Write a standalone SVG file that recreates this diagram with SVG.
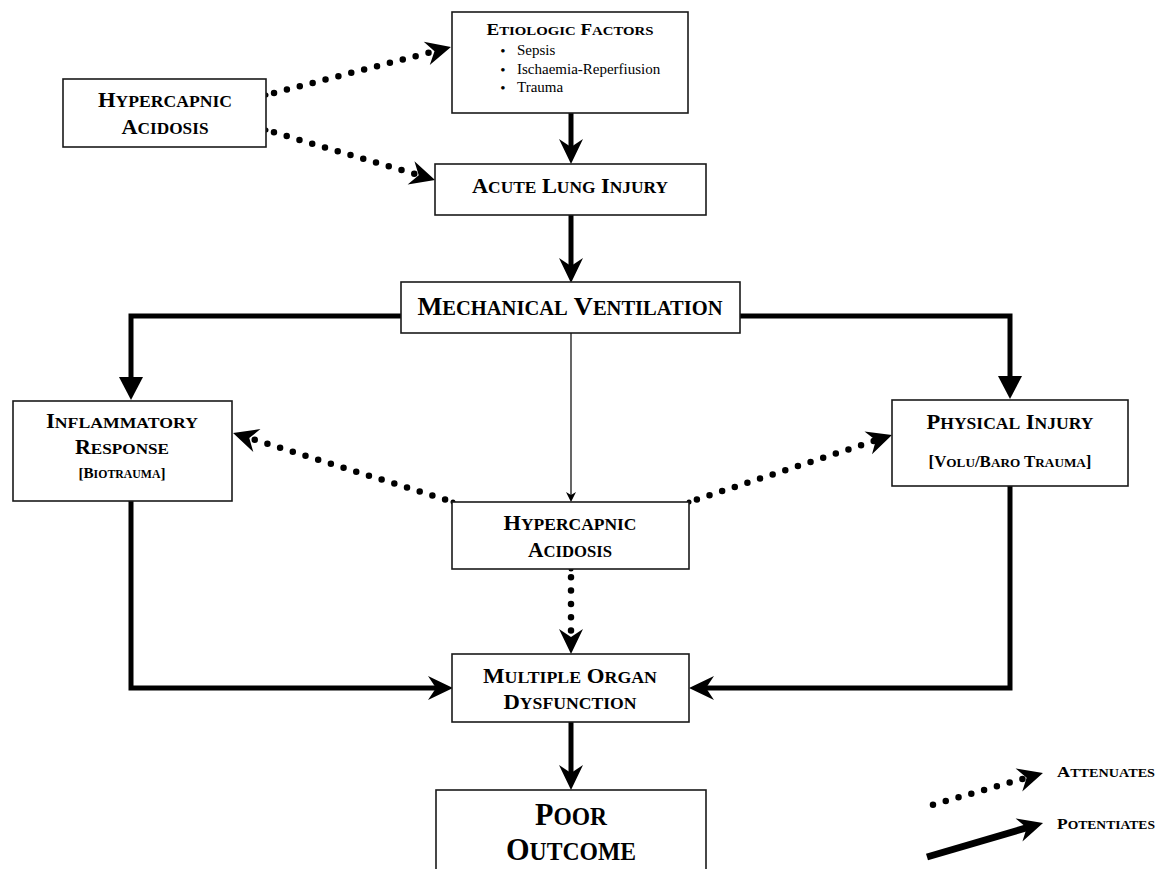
<svg xmlns="http://www.w3.org/2000/svg" width="1170" height="869" viewBox="0 0 1170 869">
<style>
.box{fill:#fff;stroke:#1a1a1a;stroke-width:1.6}
.t{font-family:"Liberation Serif","Times New Roman",serif;font-weight:bold;fill:#000;text-anchor:middle}
.s{font-size:0.78em}
.b{font-family:"Liberation Serif","Times New Roman",serif;fill:#000;font-size:15px}
.solid{fill:none;stroke:#000;stroke-width:5}
.dot{fill:none;stroke:#000;stroke-width:6.5;stroke-linecap:round;stroke-dasharray:0 13.3;stroke-dashoffset:5}
.thin{fill:none;stroke:#000;stroke-width:1.2}
</style>
<defs>
<marker id="ah" markerUnits="userSpaceOnUse" viewBox="-12 -13 27 26" refX="0" refY="0" markerWidth="27" markerHeight="26" orient="auto">
<path d="M14,0 L-11,-12 L-3,0 L-11,12 Z" fill="#000"/>
</marker>
<marker id="tri" markerUnits="userSpaceOnUse" viewBox="-10 -13 25 26" refX="0" refY="0" markerWidth="25" markerHeight="26" orient="auto">
<path d="M14,0 L-9,-12 L-9,12 Z" fill="#000"/>
</marker>
<marker id="sm" markerUnits="userSpaceOnUse" viewBox="-5 -6 12 12" refX="0" refY="0" markerWidth="12" markerHeight="12" orient="auto">
<path d="M6,0 L-4,-5 L-1,0 L-4,5 Z" fill="#000"/>
</marker>
</defs>

<g id="connectors">
<path class="solid" d="M571,113 V150" marker-end="url(#ah)"/>
<path class="solid" d="M571,215 V269" marker-end="url(#ah)"/>
<path class="solid" d="M401,316 H131 V386" marker-end="url(#tri)"/>
<path class="solid" d="M740,316 H1010 V385" marker-end="url(#tri)"/>
<path class="thin" d="M571,333 V496" marker-end="url(#sm)"/>
<path class="solid" d="M131,501 V688 H439" marker-end="url(#ah)"/>
<path class="solid" d="M1010,486 V688 H703" marker-end="url(#ah)"/>
<path class="solid" d="M571,722 V776" marker-end="url(#ah)"/>
<path class="dot" d="M266,95 L437.4,50.5" marker-end="url(#ah)"/>
<path class="dot" d="M266,130 L421.6,176" marker-end="url(#ah)"/>
<path class="dot" d="M453,502 L246.4,437.2" marker-end="url(#ah)"/>
<path class="dot" d="M689,502 L878.7,439.4" marker-end="url(#ah)"/>
<path class="dot" d="M571,569 L571,640" marker-end="url(#ah)"/>
<g fill="#000">
<circle cx="266" cy="95" r="2.5"/><circle cx="266" cy="130" r="2.5"/>
<circle cx="453" cy="502" r="2.5"/><circle cx="689" cy="502" r="2.5"/><circle cx="571" cy="569" r="2.5"/>
</g>
</g>

<g id="etiologic">
<rect class="box" x="452" y="12" width="236" height="101"/>
<text class="t" x="570" y="35" font-size="16" textLength="167" lengthAdjust="spacingAndGlyphs">E<tspan class="s">TIOLOGIC</tspan> F<tspan class="s">ACTORS</tspan></text>
<text class="b" x="503" y="56" text-anchor="middle" font-size="18">•</text>
<text class="b" x="517" y="55">Sepsis</text>
<text class="b" x="503" y="75" text-anchor="middle" font-size="18">•</text>
<text class="b" x="517" y="74">Ischaemia-Reperfiusion</text>
<text class="b" x="503" y="93" text-anchor="middle" font-size="18">•</text>
<text class="b" x="517" y="92">Trauma</text>
</g>

<g id="hypercapnic-top">
<rect class="box" x="63" y="79" width="203" height="68"/>
<text class="t" x="165" y="107" font-size="21.5" textLength="134" lengthAdjust="spacingAndGlyphs">H<tspan class="s">YPERCAPNIC</tspan></text>
<text class="t" x="165" y="134" font-size="21.5" textLength="87" lengthAdjust="spacingAndGlyphs">A<tspan class="s">CIDOSIS</tspan></text>
</g>

<g id="ali">
<rect class="box" x="435" y="164" width="271" height="51"/>
<text class="t" x="570" y="193" font-size="22" textLength="196" lengthAdjust="spacingAndGlyphs">A<tspan class="s">CUTE</tspan> L<tspan class="s">UNG</tspan> I<tspan class="s">NJURY</tspan></text>
</g>

<g id="mv">
<rect class="box" x="401" y="282" width="339" height="51"/>
<text class="t" x="570" y="315" font-size="26" textLength="305" lengthAdjust="spacingAndGlyphs">M<tspan class="s">ECHANICAL</tspan> V<tspan class="s">ENTILATION</tspan></text>
</g>

<g id="inflammatory">
<rect class="box" x="13" y="401" width="219" height="100"/>
<text class="t" x="122" y="428" font-size="20" textLength="152" lengthAdjust="spacingAndGlyphs">I<tspan class="s">NFLAMMATORY</tspan></text>
<text class="t" x="122" y="454" font-size="20" textLength="94" lengthAdjust="spacingAndGlyphs">R<tspan class="s">ESPONSE</tspan></text>
<text class="t" x="122" y="478" font-size="15" textLength="87" lengthAdjust="spacingAndGlyphs">[B<tspan class="s">IOTRAUMA</tspan>]</text>
</g>

<g id="physical">
<rect class="box" x="892" y="400" width="236" height="86"/>
<text class="t" x="1010" y="429" font-size="21.5" textLength="167" lengthAdjust="spacingAndGlyphs">P<tspan class="s">HYSICAL</tspan> I<tspan class="s">NJURY</tspan></text>
<text class="t" x="1010" y="467" font-size="17" textLength="163" lengthAdjust="spacingAndGlyphs">[V<tspan class="s">OLU</tspan>/B<tspan class="s">ARO</tspan> T<tspan class="s">RAUMA</tspan>]</text>
</g>

<g id="hypercapnic-center">
<rect class="box" x="452" y="502" width="237" height="67"/>
<text class="t" x="570" y="530" font-size="21.5" textLength="133" lengthAdjust="spacingAndGlyphs">H<tspan class="s">YPERCAPNIC</tspan></text>
<text class="t" x="570" y="557" font-size="21.5" textLength="84" lengthAdjust="spacingAndGlyphs">A<tspan class="s">CIDOSIS</tspan></text>
</g>

<g id="mod">
<rect class="box" x="452" y="654" width="237" height="68"/>
<text class="t" x="570" y="683" font-size="21.5" textLength="174" lengthAdjust="spacingAndGlyphs">M<tspan class="s">ULTIPLE</tspan> O<tspan class="s">RGAN</tspan></text>
<text class="t" x="570" y="709" font-size="21.5" textLength="133" lengthAdjust="spacingAndGlyphs">D<tspan class="s">YSFUNCTION</tspan></text>
</g>

<g id="poor">
<rect class="box" x="436" y="790" width="270" height="100"/>
<text class="t" x="571" y="825" font-size="31" textLength="72" lengthAdjust="spacingAndGlyphs">P<tspan class="s">OOR</tspan></text>
<text class="t" x="571" y="860" font-size="31" textLength="130" lengthAdjust="spacingAndGlyphs">O<tspan class="s">UTCOME</tspan></text>
</g>

<g id="legend">
<path class="dot" d="M925,807 L1029.5,776.9" marker-end="url(#ah)"/>
<path fill="none" stroke="#000" stroke-width="7" d="M927,857 L1029.6,826.9" marker-end="url(#ah)"/>
<text class="t" x="1057" y="777" font-size="15" textLength="98" lengthAdjust="spacingAndGlyphs" style="text-anchor:start">A<tspan class="s">TTENUATES</tspan></text>
<text class="t" x="1057" y="829" font-size="15" textLength="98" lengthAdjust="spacingAndGlyphs" style="text-anchor:start">P<tspan class="s">OTENTIATES</tspan></text>
</g>
</svg>
